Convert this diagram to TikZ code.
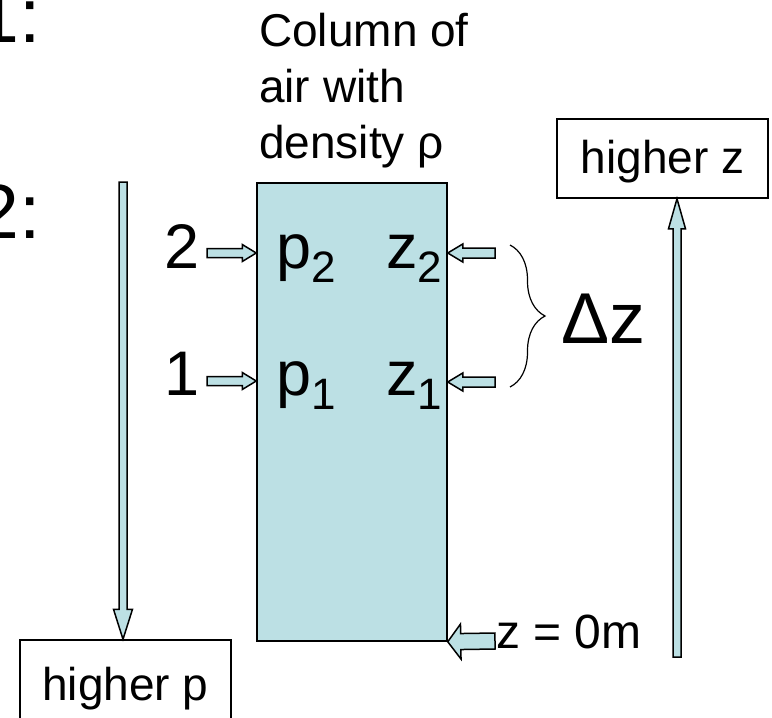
\documentclass[tikz,border=0pt]{standalone}
\usepackage{fontspec}
\setmainfont{Liberation Sans}
\usetikzlibrary{calc,decorations.pathreplacing}
\definecolor{airblue}{RGB}{188,224,228}
\tikzset{
    block arrow/.style={draw, fill=airblue, line width=1.5pt, line join=miter},
    txt/.style={inner sep=0pt, font=\fontsize{46}{56}\selectfont},
    big txt/.style={inner sep=0pt, font=\fontsize{63}{70}\selectfont},
    huge txt/.style={inner sep=0pt, font=\fontsize{77}{80}\selectfont},
    dirbox/.style={draw, line width=1.5pt, minimum width=211pt, inner sep=0pt,
        text height=40pt, text depth=10pt, font=\fontsize{46}{56}\selectfont}
}
% from, to, shaft half width, head half width, head length
\newcommand{\blockarrow}[5]{%
    \draw[block arrow] ($(#1)!#3!90:(#2)$) -- ($(#2)!#5!(#1)!#3!-90:(#1)$)
        -- ($(#2)!#5!(#1)!#4!-90:(#1)$) -- (#2) -- ($(#2)!#5!(#1)!#4!90:(#1)$)
        -- ($(#2)!#5!(#1)!#3!90:(#1)$) -- ($(#1)!#3!-90:(#2)$) -- cycle;}
\newcommand{\lowidx}[1]{\raisebox{-14pt}{\fontsize{44}{44}\selectfont #1}}

\begin{document}
\begin{tikzpicture}[x=1pt, y=-1pt]
    \useasboundingbox (0,0) rectangle (772,718);

    \node[huge txt, anchor=base west] (one) at (-24,42) {1:};
    \node[huge txt, anchor=base west] (two) at (-24,238) {2:};

    \node[txt, anchor=north west, align=left] (title) at (259,13) {Column of\\air with\\density ρ};
    \node[draw, fill=airblue, line width=1.5pt, minimum width=190pt, minimum height=458pt, inner sep=0pt] (col) at (352,412) {};

    \node[big txt, anchor=base east] (lvl2) at (200,268) {2};
    \node[big txt, anchor=base east] (lvl1) at (200,395) {1};
    \node[big txt, anchor=base west] (p2) at (276,268) {p\lowidx{2}};
    \node[big txt, anchor=base west] (p1) at (276,395) {p\lowidx{1}};
    \node[big txt, anchor=base west] (z2) at (386,268) {z\lowidx{2}};
    \node[big txt, anchor=base west] (z1) at (386,395) {z\lowidx{1}};

    \coordinate (a2) at (207,253);
    \coordinate (a1) at (207,381);
    \coordinate (b2) at (495,253);
    \coordinate (b1) at (495,382);
    \coordinate (a2e) at (col.west |- a2);
    \coordinate (a1e) at (col.west |- a1);
    \coordinate (b2e) at (col.east |- b2);
    \coordinate (b1e) at (col.east |- b1);
    \blockarrow{a2}{a2e}{4.5pt}{8.5pt}{14pt}
    \blockarrow{a1}{a1e}{4.5pt}{8.5pt}{14pt}
    \blockarrow{b2}{b2e}{5pt}{9pt}{15pt}
    \blockarrow{b1}{b1e}{5pt}{9pt}{15pt}

    \coordinate (brtop) at (510,245);
    \coordinate (brbot) at (510,387);
    \draw[line width=1.2pt, decorate, decoration={brace, amplitude=35pt}] (brtop) -- (brbot);
    \node[inner sep=0pt, font=\fontsize{72}{80}\selectfont, anchor=base west] (dz) at (561,343) {Δz};

    \node[dirbox, minimum height=79pt] (hz) at (662.5,158.5) {higher z};
    \node[dirbox, minimum height=90pt] (hp) at (125.5,685) {higher p};
    \coordinate (ptop) at (123,182);
    \coordinate (pend) at (ptop |- hp.north);
    \coordinate (zbot) at (677,657);
    \coordinate (zend) at (zbot |- hz.south);
    \blockarrow{ptop}{pend}{4pt}{9.5pt}{30pt}
    \blockarrow{zbot}{zend}{4pt}{8.5pt}{30pt}

    \node[txt, font=\fontsize{48}{56}\selectfont, anchor=base west] (zero) at (496,648) {z = 0m};
    \coordinate (z0) at (495,641);
    \blockarrow{z0}{col.south east}{8pt}{17.5pt}{13pt}
\end{tikzpicture}
\end{document}
